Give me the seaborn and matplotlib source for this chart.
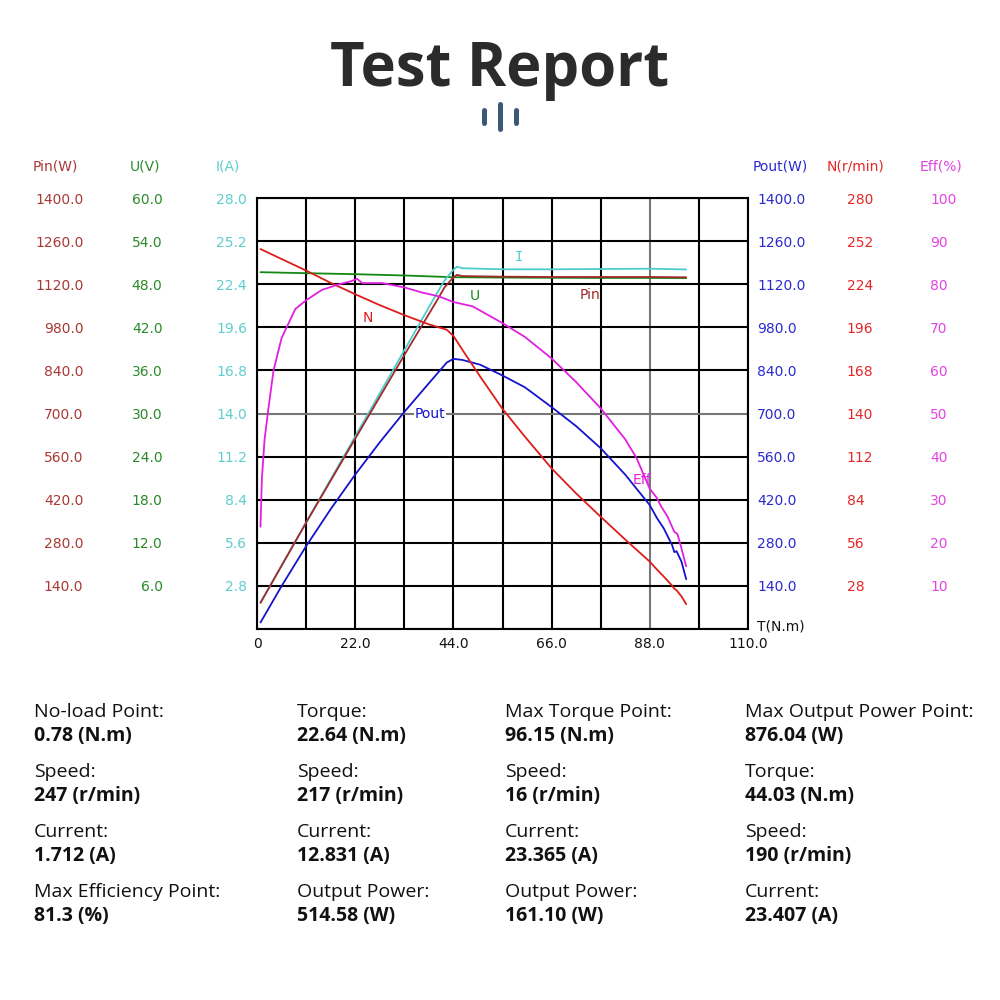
"""Motor test report: torque sweep with six twin scales."""
import matplotlib
matplotlib.use("Agg")
import matplotlib.pyplot as plt
from matplotlib.lines import Line2D
import seaborn as sns

# ---- data ----
torque_n = [0.78, 5.5, 11, 16.5, 22, 27.5, 33, 38.5, 42.5, 44, 46, 50, 55, 60,
            66, 71.5, 77, 82.5, 88, 89.6, 91.1, 93, 93.5, 94, 95.1, 96.15]
speed = [247, 240.5, 233, 225, 217.6, 210.5, 204, 198, 194.5, 190.5, 181.5, 164,
         143, 125, 104.3, 88, 72.8, 58, 43.6, 38.5, 34, 28, 26, 25, 21, 16]
pout = [20.2, 138.5, 268.4, 388.8, 501.3, 606.2, 705.0, 798.3, 865.6, 877.8, 874.3,
        858.7, 823.6, 785.4, 720.9, 658.9, 587.0, 501.1, 401.8, 360, 327, 272,
        249, 252, 218, 161.1]

torque_pin = [0.78, 11, 22, 33, 40, 42, 44, 44.8, 46, 55, 66, 77, 88, 96.15]
pin = [84, 345, 618, 890, 1060, 1110, 1143, 1151, 1147, 1145, 1144, 1144, 1144, 1143]

torque_i = [0.78, 11, 22, 33, 40, 42, 44, 44.8, 46, 55, 66, 77, 88, 96.15]
current = [1.71, 6.91, 12.51, 18.11, 21.67, 22.65, 23.35, 23.55, 23.45, 23.38,
           23.38, 23.40, 23.42, 23.37]

torque_u = [0.78, 11, 22, 33, 44, 55, 66, 77, 88, 96.15]
voltage = [49.7, 49.56, 49.42, 49.24, 49.0, 48.95, 48.92, 48.9, 48.9, 48.88]

torque_eff = [0.78, 1.1, 1.7, 2.6, 3.7, 5.5, 8.6, 11, 14.5, 18.3, 21.3, 22.4, 23.6,
              28, 33, 37, 40.8, 44, 48.3, 55, 60, 66, 71.5, 77, 82.5, 85, 88, 89.5,
              90.5, 92, 93.5, 94.2, 95, 96.15]
eff = [23.7, 35, 44, 51.5, 60, 67.5, 74.3, 76.3, 78.7, 80, 80.8, 81.3, 80.3, 80.3,
       79.3, 78.1, 77.2, 75.9, 74.9, 71, 67.8, 62.8, 57.3, 51.2, 44, 39.7, 32.5,
       30.5, 28.5, 26, 22.5, 22, 19, 14.5]

x_ticks = [0, 11, 22, 33, 44, 55, 66, 77, 88, 99, 110]
x_labels = ["0", "", "22.0", "", "44.0", "", "66.0", "", "88.0", "", "110.0"]

summary = [
    [("No-load Point:", "0.78 (N.m)"), ("Speed:", "247 (r/min)"),
     ("Current:", "1.712 (A)"), ("Max Efficiency Point:", "81.3 (%)")],
    [("Torque:", "22.64 (N.m)"), ("Speed:", "217 (r/min)"),
     ("Current:", "12.831 (A)"), ("Output Power:", "514.58 (W)")],
    [("Max Torque Point:", "96.15 (N.m)"), ("Speed:", "16 (r/min)"),
     ("Current:", "23.365 (A)"), ("Output Power:", "161.10 (W)")],
    [("Max Output Power Point:", "876.04 (W)"), ("Torque:", "44.03 (N.m)"),
     ("Speed:", "190 (r/min)"), ("Current:", "23.407 (A)")],
]
col_x = [34, 297, 505, 745]

# colours
C_PIN, C_PIN_T = "#a3282a", "#a83a35"
C_U, C_U_T = "#138a13", "#2a8a2a"
C_I, C_I_T = "#4ccccc", "#5fcdcd"
C_POUT, C_POUT_T = "#1414cc", "#2a2ad0"
C_N, C_N_T = "#dd1c1c", "#e52727"
C_EFF, C_EFF_T = "#e020e0", "#e245e2"

sns.set_theme(style="white")
plt.rcParams["font.family"] = ["DejaVu Sans"]

fig = plt.figure(figsize=(10, 10), dpi=100, facecolor="white")
ax = fig.add_axes([0.257, 0.3713, 0.491, 0.4304])

ax.set_xlim(0, 110)
ax.set_ylim(0, 1400)
ax.set_xticks(x_ticks)
ax.set_xticklabels(x_labels)
ax.set_yticks([140 * k for k in range(11)])
ax.set_yticklabels([""] + [f"{140 * k:.1f}" for k in range(1, 11)])
ax.tick_params(axis="x", length=0, pad=6, labelsize=10, labelcolor="#111111")
ax.tick_params(axis="y", length=0, pad=125, labelsize=10, labelcolor=C_PIN_T)
ax.grid(True, color="black", lw=1.5)
ax.get_xgridlines()[8].set_color("#777777")
ax.get_ygridlines()[5].set_color("#777777")
for s in ax.spines.values():
    s.set_color("black")
    s.set_linewidth(1.5)


def twin(lim, step, fmt, color, pad, left):
    t = ax.twinx()
    t.set_ylim(0, lim)
    t.set_yticks([step * k for k in range(11)])
    t.set_yticklabels([""] + [fmt.format(step * k) for k in range(1, 11)])
    if left:
        t.yaxis.tick_left()
    t.tick_params(axis="y", length=0, pad=pad, labelsize=10, labelcolor=color)
    for s in t.spines.values():
        s.set_visible(False)
    return t


ax_u = twin(60, 6, "{:.1f}", C_U_T, 68, True)
ax_i = twin(28, 2.8, "{:.1f}", C_I_T, 7.2, True)
ax_pout = twin(1400, 140, "{:.1f}", C_POUT_T, 6.5, False)
ax_n = twin(280, 28, "{:.0f}", C_N_T, 71, False)
ax_eff = twin(100, 10, "{:.0f}", C_EFF_T, 131, False)

kw = dict(estimator=None, sort=False, lw=1.3, legend=False)
sns.lineplot(x=torque_u, y=voltage, ax=ax_u, color=C_U, **kw)
sns.lineplot(x=torque_i, y=current, ax=ax_i, color=C_I, **kw)
sns.lineplot(x=torque_pin, y=pin, ax=ax_pout, color=C_PIN, **kw)
sns.lineplot(x=torque_n, y=pout, ax=ax_pout, color=C_POUT, **kw)
sns.lineplot(x=torque_n, y=speed, ax=ax_n, color=C_N, **kw)
sns.lineplot(x=torque_eff, y=eff, ax=ax_eff, color=C_EFF, **kw)
for t in (ax_u, ax_i, ax_pout, ax_n, ax_eff):
    t.set_xlabel("")
    t.set_ylabel("")
ax.set_xlim(0, 110)

# curve names (placed on the 0-100 scale of the eff axis)
ax_eff.text(24.9, 1010 / 14, "N", color=C_N, fontsize=10, ha="center", va="center")
ax_eff.text(48.8, 1081 / 14, "U", color=C_U, fontsize=10, ha="center", va="center")
ax_eff.text(58.7, 1208 / 14, "I", color=C_I, fontsize=10, ha="center", va="center",
            family="DejaVu Sans Mono")
ax_eff.text(74.6, 1085 / 14, "Pin", color=C_PIN, fontsize=10, ha="center", va="center")
ax_eff.text(38.8, 700 / 14, "Pout", color=C_POUT, fontsize=10, ha="center", va="center",
            bbox=dict(facecolor="white", edgecolor="none", pad=0.5))
ax_eff.text(86.3, 483 / 14, "Eff", color=C_EFF, fontsize=10, ha="center", va="center")

# scale headers
for x, txt, c in [(33, "Pin(W)", C_PIN_T), (130, "U(V)", C_U_T), (216, "I(A)", C_I_T),
                  (753, "Pout(W)", C_POUT_T), (827, "N(r/min)", C_N_T),
                  (920, "Eff(%)", C_EFF_T)]:
    fig.text(x / 1000, 1 - 166 / 1000, txt, color=c, fontsize=10, ha="left", va="center")
fig.text(0.757, 1 - 627 / 1000, "T(N.m)", color="#111111", fontsize=10,
         ha="left", va="center")

# title and little bar icon
fig.text(0.5, 1 - 86 / 1000, "Test Report", ha="center", va="baseline",
         fontsize=43, fontweight="bold", family="Open Sans", color="#2b2b2b")
for x, y0, y1 in [(484, 109.5, 122.5), (500, 103.5, 128.5), (516, 109.5, 122.5)]:
    fig.add_artist(Line2D([x / 1000, x / 1000], [1 - y0 / 1000, 1 - y1 / 1000],
                          transform=fig.transFigure, color="#3b5877", lw=3.6,
                          solid_capstyle="round"))

# summary block
for cx, rows in zip(col_x, summary):
    for r, (lab, val) in enumerate(rows):
        base = 717 + 60 * r
        fig.text(cx / 1000, 1 - base / 1000, lab, fontsize=14, family="Open Sans",
                 color="#111111", ha="left", va="baseline")
        fig.text(cx / 1000, 1 - (base + 24) / 1000, val, fontsize=14,
                 family="Open Sans", fontweight="bold", color="#111111",
                 ha="left", va="baseline")

fig.savefig("out.png", dpi=100, facecolor="white")
